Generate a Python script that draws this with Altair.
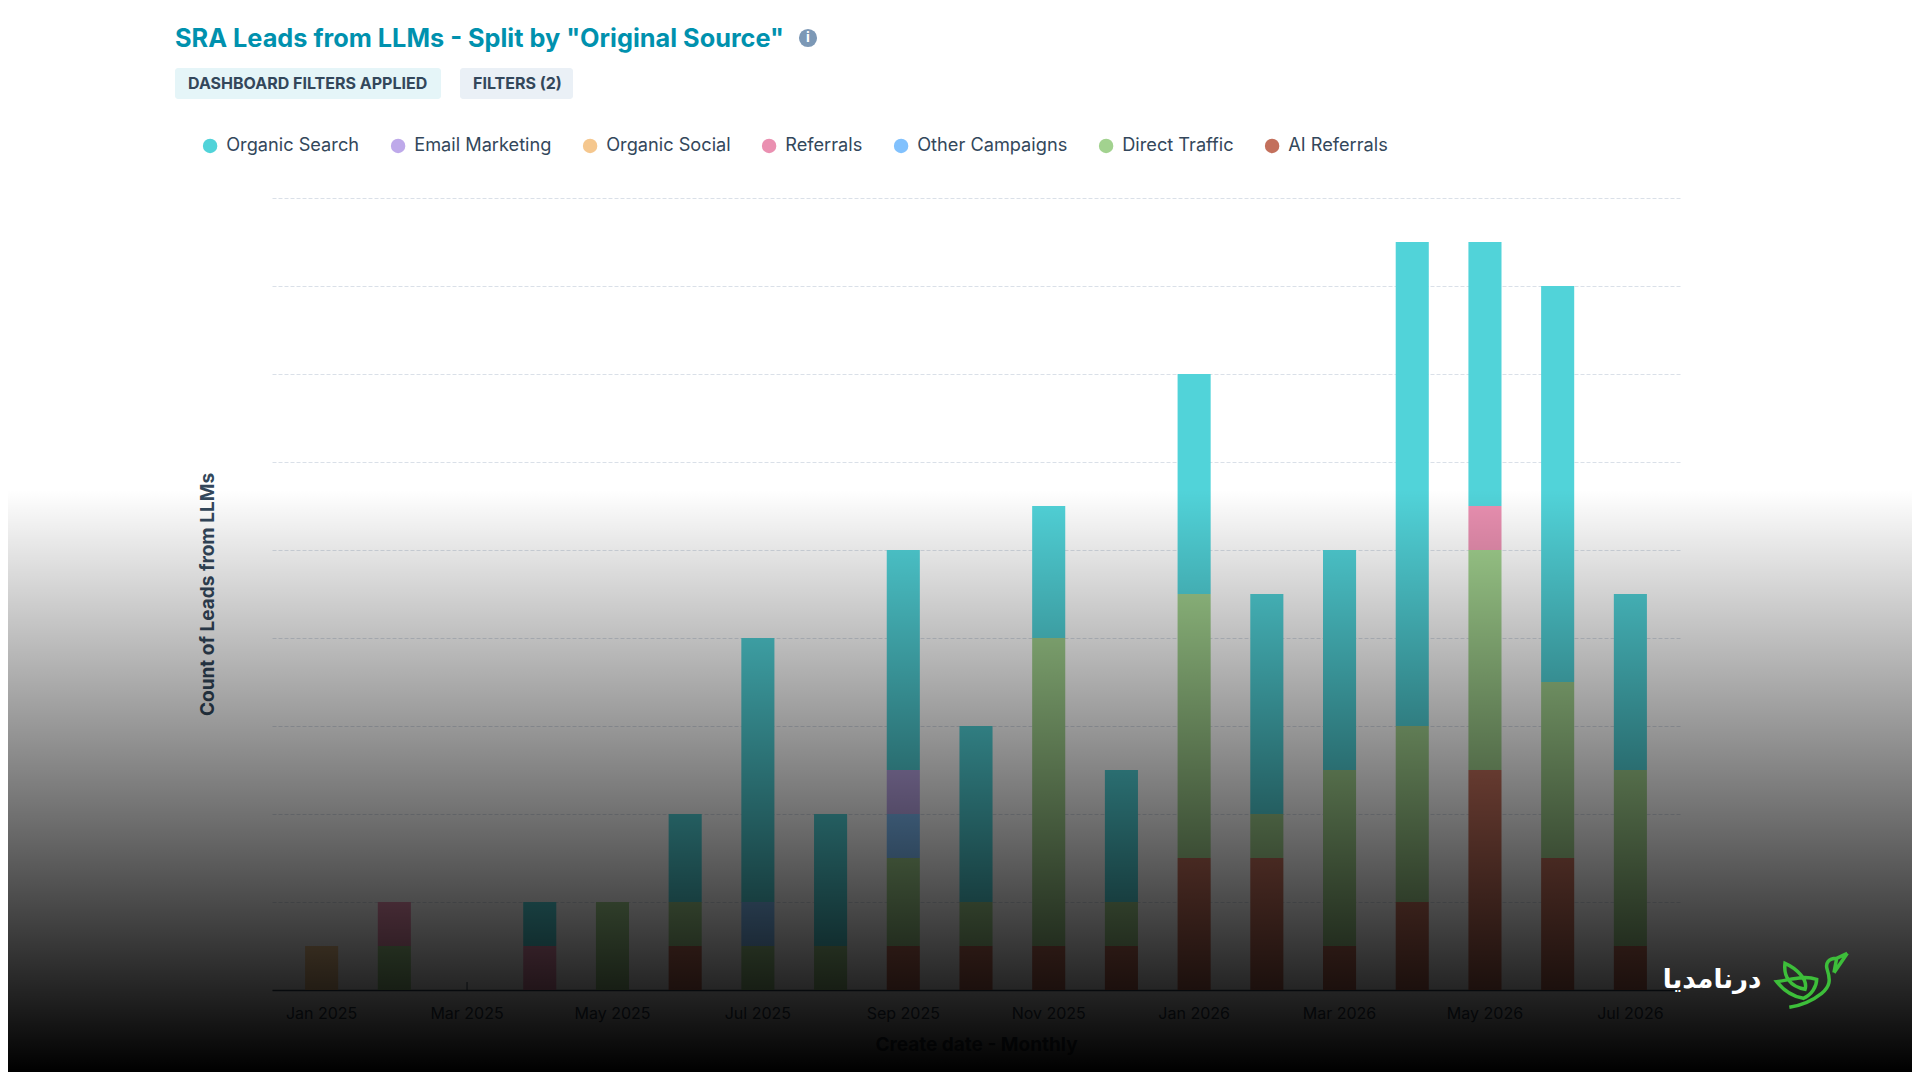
import altair as alt
import pandas as pd

months = ["Jan 2025","Feb 2025","Mar 2025","Apr 2025","May 2025","Jun 2025","Jul 2025","Aug 2025","Sep 2025","Oct 2025",
          "Nov 2025","Dec 2025","Jan 2026","Feb 2026","Mar 2026","Apr 2026","May 2026","Jun 2026","Jul 2026"]
tick_months = months[::2]
grid_values = [0,2,4,6,8,10,12,14,16,18]

ai_referrals    = [0,0,0,0,0,1,0,0,1,1,1,1,3,3,1,2,5,3,1]
direct_traffic  = [0,1,0,0,2,1,1,1,2,1,7,1,6,1,4,4,5,4,4]
other_campaigns = [0,0,0,0,0,0,1,0,1,0,0,0,0,0,0,0,0,0,0]
referrals       = [0,1,0,1,0,0,0,0,0,0,0,0,0,0,0,0,1,0,0]
organic_social  = [1,0,0,0,0,0,0,0,0,0,0,0,0,0,0,0,0,0,0]
email_marketing = [0,0,0,0,0,0,0,0,1,0,0,0,0,0,0,0,0,0,0]
organic_search  = [0,0,0,1,0,2,6,3,5,4,3,3,5,5,5,11,6,9,4]

legend_order = ["Organic Search","Email Marketing","Organic Social","Referrals","Other Campaigns","Direct Traffic","AI Referrals"]
colors = ["#51D3D9","#BEA9EA","#F5C78E","#EA90B1","#81C1FD","#A2D28F","#C3705C"]
stack_series = [("AI Referrals",ai_referrals),("Direct Traffic",direct_traffic),("Other Campaigns",other_campaigns),
                ("Referrals",referrals),("Organic Social",organic_social),("Email Marketing",email_marketing),
                ("Organic Search",organic_search)]

rows = []
for order, (name, vals) in enumerate(stack_series):
    for m, v in zip(months, vals):
        if v:
            rows.append({"month": m, "source": name, "count": v, "order": order})
df = pd.DataFrame(rows)

TEXT = "#33475B"
FONT = "Inter"
OX, OY = 272, 198   # plot origin on the page
W, H = 1408, 792
one = pd.DataFrame({"a": [0]})

def px(x): return alt.value(x - OX)
def py(y): return alt.value(y - OY)

def text(s, x, y, size, color=TEXT, weight="normal", align="left", font=FONT):
    return alt.Chart(one).mark_text(text=s, fontSize=size, color=color, fontWeight=weight, align=align,
                                    baseline="middle", font=font).encode(x=px(x), y=py(y))

def chip(x0, x1, y0, y1, color):
    return alt.Chart(one).mark_rect(color=color, cornerRadius=3).encode(x=px(x0), x2=px(x1), y=py(y0), y2=py(y1))

x_enc = alt.X("month:N", sort=months,
              scale=alt.Scale(domain=months, paddingInner=0.545, paddingOuter=0.455),
              axis=alt.Axis(values=tick_months, title="Create date - Monthly", labelAngle=0, ticks=False,
                            labelFontSize=16, labelColor=TEXT, labelPadding=15, labelFont=FONT, labelOverlap=False,
                            domainColor=TEXT, domainWidth=1.5, grid=False,
                            titleFontSize=19, titleFont=FONT, titleFontWeight="bold", titleColor=TEXT, titlePadding=14))

bars = alt.Chart(df).mark_bar().encode(
    x=x_enc,
    y=alt.Y("count:Q", stack="zero", scale=alt.Scale(domain=[0, 18], nice=False),
            axis=alt.Axis(values=grid_values, labels=False, ticks=False, domain=False, grid=True, gridColor="#DAE0E8",
                          gridDash=[4, 2], gridWidth=1, title="Count of Leads from LLMs", titleFontSize=19,
                          titleFont=FONT, titleFontWeight="bold", titleColor=TEXT, titlePadding=54.5)),
    color=alt.Color("source:N", scale=alt.Scale(domain=legend_order, range=colors),
                    legend=alt.Legend(orient="none", legendX=-71, legendY=-61.5, direction="horizontal", columns=7,
                                      title=None, symbolType="circle", symbolSize=210, symbolStrokeWidth=0,
                                      symbolOpacity=1, labelFontSize=18.2, labelFont=FONT, labelColor=TEXT,
                                      columnPadding=29, labelOffset=7)),
    order=alt.Order("order:Q"),
)

tick_df = pd.DataFrame({"month": tick_months})
ticks = alt.Chart(tick_df).mark_rule(color=TEXT, strokeWidth=1).encode(
    x=x_enc, y=alt.value(H), y2=alt.value(H - 8))

fade = alt.Chart(one).mark_rect(color=alt.LinearGradient(
    gradient="linear", x1=0, x2=0, y1=0, y2=1,
    stops=[alt.GradientStop(color="rgba(0,0,0,0)", offset=0), alt.GradientStop(color="rgba(0,0,0,1)", offset=1)])).encode(
    x=alt.value(-264), x2=alt.value(1640), y=py(490), y2=py(1072))

# logo: bird drawn as a stroked path, coordinates normalised to the symbol box
def norm(cmds, cx=516, cy=150, half=108):
    out = []
    for c in cmds:
        if isinstance(c, str):
            out.append(c)
        else:
            out.append(f"{(c[0]-cx)/half:.3f},{(c[1]-cy)/half:.3f}")
    return " ".join(out)

bird_path = norm(["M",(622,70),"L",(590,85),"C",(565,85),(555,100),(562,120),"C",(572,150),(570,170),(545,190),
                  "C",(520,210),(490,225),(448,232),
                  "M",(622,70),"L",(582,128),"M",(590,85),"L",(582,128),
                  "M",(435,100),"C",(430,140),(450,170),(495,178),"C",(505,150),(470,115),(435,100),"Z",
                  "M",(410,155),"C",(430,180),(460,200),(490,205),"C",(515,195),(530,170),(530,148),
                  "C",(490,135),(450,150),(410,155),"Z"])
bird = alt.Chart(one).mark_point(shape=bird_path, filled=False, stroke="#3DBE3A", strokeWidth=3.5, opacity=1,
                                 size=72*72).encode(x=px(1812), y=py(980))

chart = alt.layer(
    ticks, bars, fade,
    text('SRA Leads from LLMs - Split by "Original Source"', 175, 39, 25.3, color="#0091AE", weight="bold"),
    alt.Chart(one).mark_point(shape="circle", filled=True, color="#7C98B6", size=330, opacity=1).encode(x=px(808), y=py(38)),
    text("i", 808, 38, 14, color="#FFFFFF", weight="bold", align="center"),
    chip(175, 441, 68, 99, "#E5F5F8"),
    chip(460, 573, 68, 99, "#EAF0F6"),
    text("DASHBOARD FILTERS APPLIED", 188, 84, 16, weight="bold"),
    text("FILTERS (2)", 473, 84, 16, weight="bold"),
    text("درنامدیا", 1712, 980, 26, color="#FFFFFF", weight="bold", align="center", font="DejaVu Sans"),
    bird,
).resolve_scale(x="shared", y="shared", color="independent").properties(
    width=W, height=H, padding={"left": 264, "top": 190, "right": 232, "bottom": 82},
    autosize=alt.AutoSizeParams(type="none"), background="#FFFFFF",
).configure_view(stroke=None)

chart.save("out.html", embed_options={"renderer": "svg", "actions": False})
